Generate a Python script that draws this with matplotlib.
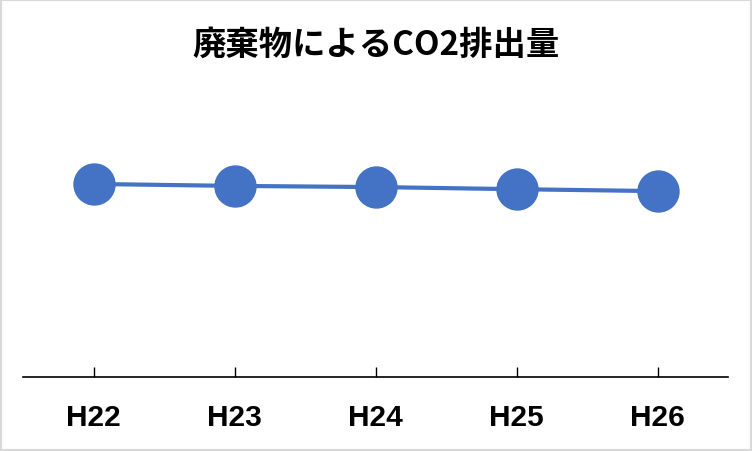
import matplotlib
matplotlib.use("Agg")
from matplotlib import pyplot as plt
from matplotlib.patches import Rectangle

years = ["H22", "H23", "H24", "H25", "H26"]
co2 = [100.0, 99.0, 98.4, 97.3, 96.3]

plt.rcParams['font.family'] = ['Noto Sans CJK JP', 'DejaVu Sans']

fig = plt.figure(figsize=(7.52, 4.52), dpi=100)
ax = fig.add_axes([23/752, 74/452, 705/752, 332/452])

ax.plot(range(len(years)), co2, color='#4472C4', lw=3, marker='o',
        markersize=29.5, markerfacecolor='#4472C4', markeredgecolor='#4472C4')

ax.set_xlim(-0.5, len(years) - 0.5)
ax.set_ylim(0, 172)
ax.set_xticks(range(len(years)))
ax.set_xticklabels(years, fontfamily='Liberation Sans', fontweight='bold', fontsize=21.5)
ax.tick_params(axis='x', direction='in', length=7, width=1, pad=19)
ax.set_yticks([])
for s in ['top', 'right', 'left']:
    ax.spines[s].set_visible(False)
ax.spines['bottom'].set_linewidth(1.2)

fig.text(0.5, 1 - 45/452, "廃棄物によるCO2排出量", ha='center', va='center',
         fontsize=24, fontweight='bold')

fig.patches.append(Rectangle((0, 0), 1, 1, transform=fig.transFigure,
                             fill=False, edgecolor='#d9d9d9', lw=3))

fig.savefig("out.png", dpi=100)
